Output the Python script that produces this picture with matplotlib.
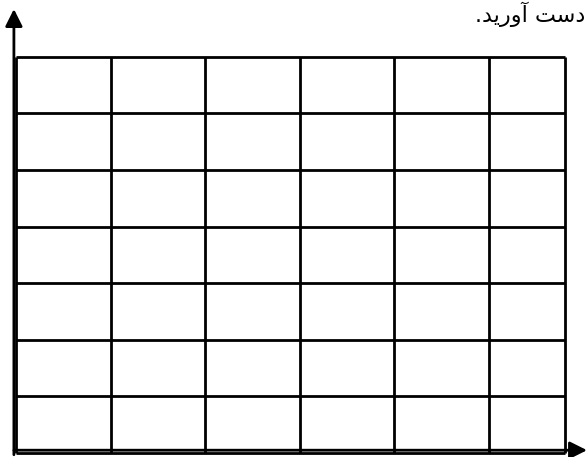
import matplotlib
matplotlib.use("Agg")
import matplotlib.pyplot as plt

# grid cells (in cell units): 6 columns, the last one cut short, 7 rows
col_edges = [0, 1, 2, 3, 4, 5, 5.8]
row_edges = [0, 1, 2, 3, 4, 5, 6, 7]
# caption ("...دست آورید.") written in visual order with presentation forms
caption = ".\uFEAA\uFBFE\uFEAD\uFEED\uFE81 \uFE96\uFEB3\uFEA9"

fig = plt.figure(figsize=(5.87, 4.57), dpi=100)
ax = fig.add_axes([0, 0, 1, 1])
ax.set_xlim(-0.169, 6.036)
ax.set_ylim(-0.07, 8.0)
ax.axis("off")

# cells
ax.vlines(col_edges, row_edges[0], row_edges[-1], color="black", lw=2)
ax.hlines(row_edges, col_edges[0], col_edges[-1], color="black", lw=2)

# axes with arrow heads
arrow = dict(arrowstyle="-|>", lw=2, color="black", mutation_scale=26,
             shrinkA=0, shrinkB=0)
ax.annotate("", xy=(-0.022, 7.84), xytext=(-0.022, -0.03), arrowprops=arrow,
            annotation_clip=False)
ax.annotate("", xy=(6.036, 0.05), xytext=(-0.022, 0.05), arrowprops=arrow,
            annotation_clip=False)

fig.text(585 / 587, 1 - 22 / 457, caption, fontsize=16, ha="right",
         va="baseline", family=["DejaVu Sans"])

fig.savefig("out.png", dpi=100)
